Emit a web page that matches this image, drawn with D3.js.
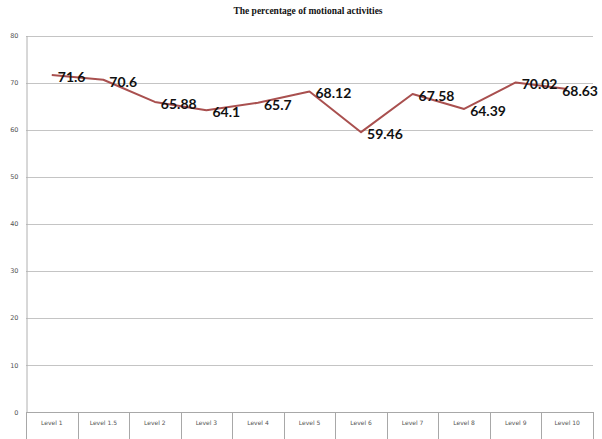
<!DOCTYPE html>
<html>
<head>
<meta charset="utf-8">
<script src="https://cdn.jsdelivr.net/npm/d3@7"></script>
<style>
  html, body { margin: 0; padding: 0; background: #fff; }
  svg { display: block; }
</style>
</head>
<body>
<svg id="chart" width="602" height="439"></svg>
<script>
// Share of motional activities per level
const categories = ["Level 1", "Level 1.5", "Level 2", "Level 3", "Level 4", "Level 5",
                    "Level 6", "Level 7", "Level 8", "Level 9", "Level 10"];
const values = [71.6, 70.6, 65.88, 64.1, 65.7, 68.12, 59.46, 67.58, 64.39, 70.02, 68.63];
const yTicks = [0, 10, 20, 30, 40, 50, 60, 70, 80];
const title = "The percentage of motional activities";

const W = 602, H = 439;
const margin = { top: 35.5, right: 9, bottom: 27, left: 26 };
const svg = d3.select("#chart");

const x = d3.scaleBand()
  .domain(categories)
  .range([margin.left, W - margin.right])
  .padding(0);

const y = d3.scaleLinear()
  .domain([0, 80])
  .range([H - margin.bottom, margin.top]);

// Title
svg.append("text")
  .attr("x", 308)
  .attr("y", 14)
  .attr("text-anchor", "middle")
  .attr("font-family", "'Liberation Serif', 'Times New Roman', serif")
  .attr("font-weight", "bold")
  .attr("font-size", 9.5)
  .attr("fill", "#111")
  .text(title);

// Horizontal gridlines
svg.append("g")
  .selectAll("line")
  .data(yTicks)
  .join("line")
  .attr("x1", margin.left)
  .attr("x2", W - margin.right)
  .attr("y1", d => Math.round(y(d)) + 0.5)
  .attr("y2", d => Math.round(y(d)) + 0.5)
  .attr("stroke", d => d === 0 ? "#a8a8a8" : "#c4c4c4")
  .attr("stroke-width", 1);

// Y axis
const yAxis = svg.append("g")
  .attr("transform", `translate(${margin.left + 0.5},0)`)
  .call(d3.axisLeft(y).tickValues(yTicks).tickSize(0).tickPadding(8));
yAxis.select(".domain").attr("stroke", "#b0b0b0");
yAxis.selectAll("text")
  .attr("font-family", "'DejaVu Sans', sans-serif")
  .attr("font-size", 6.5)
  .attr("fill", "#555");

// X axis: category cells with separators below the baseline
const xAxis = svg.append("g")
  .attr("transform", `translate(0,${H - margin.bottom})`)
  .call(d3.axisBottom(x).tickSize(0).tickPadding(9));
xAxis.select(".domain").remove();
xAxis.selectAll("text")
  .attr("font-family", "'DejaVu Sans', sans-serif")
  .attr("font-size", 6)
  .attr("fill", "#555");

const bounds = categories.map(c => x(c)).concat([x(categories[categories.length - 1]) + x.bandwidth()]);
svg.append("g")
  .selectAll("line")
  .data(bounds)
  .join("line")
  .attr("x1", d => Math.round(d) + 0.5)
  .attr("x2", d => Math.round(d) + 0.5)
  .attr("y1", H - margin.bottom)
  .attr("y2", H)
  .attr("stroke", "#a8a8a8")
  .attr("stroke-width", 1);

// Series line
const cx = c => x(c) + x.bandwidth() / 2;
const line = d3.line()
  .x((d, i) => cx(categories[i]))
  .y(d => y(d));

svg.append("path")
  .datum(values)
  .attr("d", line)
  .attr("fill", "none")
  .attr("stroke", "#a9504f")
  .attr("stroke-width", 2)
  .attr("stroke-linejoin", "round");

// Value labels to the right of each point, kept inside the plot
const labelFont = 14;
svg.append("g")
  .selectAll("text")
  .data(values)
  .join("text")
  .attr("font-family", "Lato, 'Open Sans', sans-serif")
  .attr("font-weight", "bold")
  .attr("font-size", labelFont)
  .attr("fill", "#111")
  .attr("y", d => y(d) + 7)
  .text(d => d)
  .each(function (d, i) {
    const w = this.getComputedTextLength();
    let lx = cx(categories[i]) + 6;
    const maxX = W - 4;
    if (lx + w > maxX) lx = maxX - w;
    d3.select(this).attr("x", lx);
  });
</script>
</body>
</html>
